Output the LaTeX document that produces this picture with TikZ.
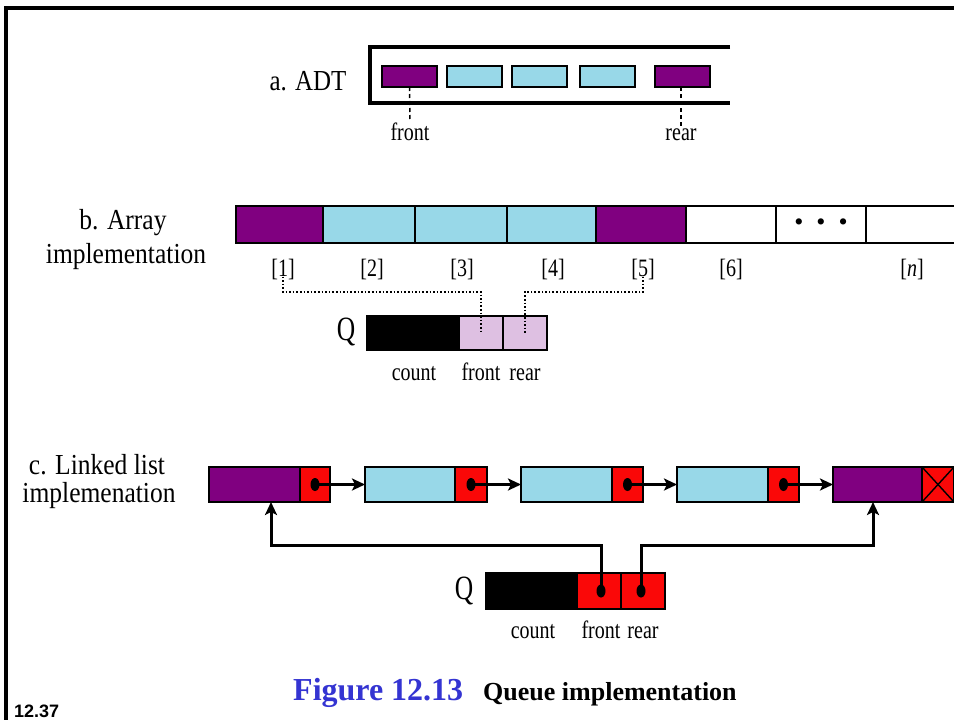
\documentclass[tikz,border=0pt]{standalone}
\usepackage{graphicx}
\usepackage{fontspec}
\setmainfont{Liberation Serif}
\newfontfamily\capsans{Liberation Sans}
\usetikzlibrary{arrows.meta,calc}
\definecolor{qpurple}{RGB}{128,0,128}
\definecolor{qcyan}{RGB}{152,216,232}
\definecolor{qpink}{RGB}{222,192,226}
\definecolor{qred}{RGB}{250,8,8}
\definecolor{qblue}{RGB}{52,52,210}
\newcommand{\narrowtxt}[2]{\scalebox{#1}[1]{#2}}
\begin{document}
\begin{tikzpicture}[x=1pt,y=-1pt,
  cellbox/.style={draw=black, line width=2pt, inner sep=0pt, outer sep=0pt, anchor=north west},
  adtcell/.style={cellbox, minimum width=55pt, minimum height=21pt},
  arrcell/.style={cellbox, minimum height=37pt},
  llcell/.style={cellbox, minimum height=35pt},
  qcell/.style={cellbox, minimum height=34pt},
  q2cell/.style={cellbox, minimum height=36pt},
  bigtxt/.style={font=\fontsize{29}{29}\selectfont, inner sep=0pt, anchor=base},
  smalltxt/.style={font=\fontsize{25}{25}\selectfont, inner sep=0pt, anchor=base},
  qtxt/.style={font=\fontsize{34}{34}\selectfont, inner sep=0pt},
  ptr/.style={line width=3pt, -{Stealth[length=13pt,width=12pt,inset=3pt]}},
  dotlink/.style={line width=1.6pt, dash pattern=on 1.6pt off 2pt},
  dashlink/.style={line width=1.5pt, dash pattern=on 4pt off 3pt}
]
\useasboundingbox (0,0) rectangle (954,720);
\fill[white] (0,0) rectangle (954,720);
% frame
\draw[line width=3.5pt] (6,722) -- (6,8) -- (956,8);

% ---------- a. ADT ----------
\node[bigtxt] (adtlab) at (308,90) {\narrowtxt{0.86}{a. ADT}};
\draw[line width=4.5pt] (730,47) -- (370,47) -- (370,103) -- (730,103);
\node[adtcell, fill=qpurple] (a1) at (382,66) {};
\node[adtcell, fill=qcyan] (a2) at (447,66) {};
\node[adtcell, fill=qcyan] (a3) at (512,66) {};
\node[adtcell, fill=qcyan] (a4) at (580,66) {};
\node[adtcell, fill=qpurple] (a5) at (655,66) {};
\node[smalltxt] (afront) at (410,140) {\narrowtxt{0.8}{front}};
\node[smalltxt] (arear) at (681,140) {\narrowtxt{0.8}{rear}};
\draw[dashlink] (a1.south) -- ([yshift=2pt]afront.north);
\draw[dashlink] (a5.south -| arear.north) -- ([yshift=2pt]arear.north);

% ---------- b. Array ----------
\node[bigtxt] (arrlab1) at (123,229) {\narrowtxt{0.88}{b. Array}};
\node[bigtxt] (arrlab2) at (126,263) {\narrowtxt{0.88}{implementation}};
\node[arrcell, fill=qpurple, minimum width=87pt] (b1) at (236,206) {};
\node[arrcell, fill=qcyan, minimum width=92pt] (b2) at (323,206) {};
\node[arrcell, fill=qcyan, minimum width=92pt] (b3) at (415,206) {};
\node[arrcell, fill=qcyan, minimum width=89pt] (b4) at (507,206) {};
\node[arrcell, fill=qpurple, minimum width=90pt] (b5) at (596,206) {};
\node[arrcell, fill=white, minimum width=90pt] (b6) at (686,206) {};
\node[arrcell, fill=white, minimum width=90pt, font=\fontsize{26}{26}\selectfont] (b7) at (776,206) {\textbullet\hspace{13pt}\textbullet\hspace{13pt}\textbullet};
\node[arrcell, fill=white, minimum width=110pt] (b8) at (866,206) {};
\node[smalltxt] (i1) at (283,276) {\narrowtxt{0.8}{[1]}};
\node[smalltxt] (i2) at (372,276) {\narrowtxt{0.8}{[2]}};
\node[smalltxt] (i3) at (462,276) {\narrowtxt{0.8}{[3]}};
\node[smalltxt] (i4) at (553,276) {\narrowtxt{0.8}{[4]}};
\node[smalltxt] (i5) at (643,276) {\narrowtxt{0.8}{[5]}};
\node[smalltxt] (i6) at (731,276) {\narrowtxt{0.8}{[6]}};
\node[smalltxt] (in) at (912,276) {\narrowtxt{0.8}{[\textit{n}]}};

\node[qtxt] (qlab) at (346,332) {\narrowtxt{0.75}{Q}};
\node[qcell, fill=black, minimum width=92pt] (qc) at (367,316) {};
\node[qcell, fill=qpink, minimum width=44pt] (qf) at (459,316) {};
\node[qcell, fill=qpink, minimum width=44pt] (qr) at (503,316) {};
\node[smalltxt] (qcount) at (414,380) {\narrowtxt{0.8}{count}};
\node[smalltxt] (qfront) at (481,380) {\narrowtxt{0.8}{front}};
\node[smalltxt] (qrear) at (525,380) {\narrowtxt{0.8}{rear}};
\draw[dotlink] ([yshift=3pt]i1.south) -- (i1.south |- 0,292) -- (qf.center |- 0,292) -- (qf.center);
\draw[dotlink] ([yshift=3pt]i5.south) -- (i5.south |- 0,292) -- (qr.center |- 0,292) -- (qr.center);

% ---------- c. Linked list ----------
\node[bigtxt] (lllab1) at (97,474) {\narrowtxt{0.88}{c. Linked list}};
\node[bigtxt] (lllab2) at (99,502) {\narrowtxt{0.88}{implemenation}};
\node[llcell, fill=qpurple, minimum width=91pt] (n1d) at (209,467) {};
\node[llcell, fill=qred, minimum width=30pt] (n1p) at (300,467) {};
\node[llcell, fill=qcyan, minimum width=90pt] (n2d) at (365,467) {};
\node[llcell, fill=qred, minimum width=32pt] (n2p) at (455,467) {};
\node[llcell, fill=qcyan, minimum width=91pt] (n3d) at (521,467) {};
\node[llcell, fill=qred, minimum width=31pt] (n3p) at (612,467) {};
\node[llcell, fill=qcyan, minimum width=91pt] (n4d) at (677,467) {};
\node[llcell, fill=qred, minimum width=31pt] (n4p) at (768,467) {};
\node[llcell, fill=qpurple, minimum width=89pt] (n5d) at (833,467) {};
\node[llcell, fill=qred, minimum width=32pt] (n5p) at (922,467) {};
\draw[line width=1.4pt] (n5p.north west) -- (n5p.south east) (n5p.south west) -- (n5p.north east);
\foreach \a/\b in {n1p/n2d, n2p/n3d, n3p/n4d, n4p/n5d} {
  \draw[ptr] (\a.center) -- (\b.west);
  \fill (\a.center) ellipse (4.5pt and 6.5pt);
}

\node[qtxt] (q2lab) at (464,591) {\narrowtxt{0.75}{Q}};
\node[q2cell, fill=black, minimum width=91pt] (c) at (486,573) {};
\node[q2cell, fill=qred, minimum width=44pt] (f) at (577,573) {};
\node[q2cell, fill=qred, minimum width=44pt] (r) at (621,573) {};
\coordinate (fdot) at ($(f.center)+(2,0)$);
\coordinate (rdot) at ($(r.center)+(-2,0)$);
\draw[ptr] (fdot) -- (fdot |- 0,545) -- (271,545) -- (271,0 |- n1d.south);
\draw[ptr] (rdot) -- (rdot |- 0,545) -- (873,545) -- (873,0 |- n5d.south);
\fill (fdot) ellipse (4.5pt and 6.5pt);
\fill (rdot) ellipse (4.5pt and 6.5pt);
\node[smalltxt] (ccount) at (533,638) {\narrowtxt{0.8}{count}};
\node[smalltxt] (cfront) at (601,638) {\narrowtxt{0.8}{front}};
\node[smalltxt] (crear) at (643,638) {\narrowtxt{0.8}{rear}};

% ---------- caption ----------
\node[anchor=base west, inner sep=0pt, font=\fontsize{32}{32}\selectfont\bfseries, text=qblue] (figno) at (293,700) {Figure 12.13};
\node[anchor=base west, inner sep=0pt, font=\fontsize{26}{26}\selectfont\bfseries] (figtitle) at (483,700) {Queue implementation};
\node[anchor=base west, inner sep=0pt, font=\capsans\fontsize{18}{18}\selectfont\bfseries] (pageno) at (14,717) {12.37};
\end{tikzpicture}
\end{document}
